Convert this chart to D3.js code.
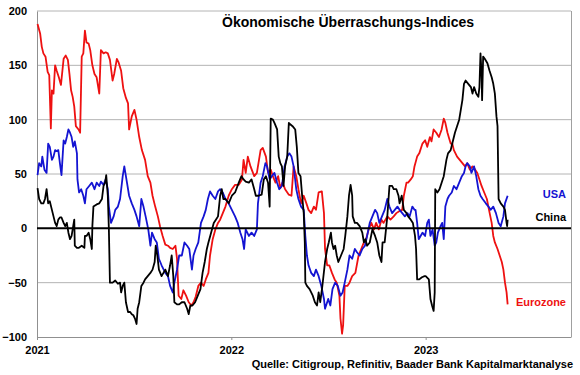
<!DOCTYPE html>
<html>
<head>
<meta charset="utf-8">
<script src="https://cdn.jsdelivr.net/npm/d3@7"></script>
<style>
  body { margin: 0; background: #fff; }
  text { font-family: "Liberation Sans", Arial, sans-serif; font-weight: bold; }
</style>
</head>
<body>
<div id="chart"></div>
<script>
// data: [days since 2021-01-01, index value]
const eurozone = [
  [1,188],[6,179],[9,167],[12,161],[16,158],[20,144],[23,141],[26,92],[28,127],[31,124],[34,150],[37,145],
  [41,139],[45,132],[50,156],[54,159],[58,155],[61,142],[64,127],[67,121],[70,112],[73,94],[78,91],[81,88],
  [84,158],[87,161],[90,182],[93,171],[97,170],[100,164],[104,150],[108,142],[112,139],[117,124],[120,164],
  [125,161],[129,162],[133,161],[137,155],[142,136],[145,142],[150,156],[153,153],[158,145],[162,129],[167,120],
  [171,115],[173,91],[178,103],[183,109],[187,100],[192,84],[197,72],[203,63],[208,48],[213,42],[217,30],
  [222,20],[227,11],[231,2],[236,-7],[241,-15],[246,-16],[250,-18],[255,-19],[260,-16],[263,-28],[266,-62],
  [271,-65],[275,-57],[280,-62],[285,-68],[290,-71],[294,-68],[298,-63],[303,-53],[308,-50],[313,-53],[317,-47],
  [322,-41],[325,-25],[330,-10],[335,-1],[340,5],[344,8],[349,14],
  [354,20],[360,30],[366,36],[372,40],[379,40],[385,45],[388,63],[392,51],[396,66],[401,57],[408,48],[413,51],
  [420,72],[424,74],[430,66],[434,51],[439,54],[443,48],[448,42],[453,48],[457,37],[461,42],[466,36],[473,31],
  [478,30],[482,57],[487,48],[491,36],[496,23],[501,30],[506,23],[510,17],[515,14],[520,20],[524,17],[529,33],
  [535,34],[539,14],[541,-19],[545,-34],[549,-34],[554,-41],[559,-47],[563,-50],[568,-62],[570,-83],[573,-97],
  [575,-89],[578,-53],[583,-53],[587,-50],[592,-44],[598,-41],[604,-25],[609,-19],[614,-13],[618,-10],[623,-1],
  [628,5],[633,-1],[637,5],[642,-1],[647,8],[651,5],[658,11],[664,8],[670,11],[675,14],[681,16],[686,17],
  [689,30],[694,42],[697,42],[702,45],[706,48],[709,57],
  [714,66],[718,69],[724,78],[729,81],[733,75],[738,84],[741,80],[745,91],[750,88],[755,84],[760,91],[764,101],
  [767,97],[771,88],[774,83],[777,78],[780,78],[783,72],[786,69],[789,66],[794,63],[799,60],[804,57],[808,60],
  [813,54],[818,57],[823,54],[827,51],[831,45],[835,39],[840,33],[845,27],[849,17],[854,5],[857,-7],[860,-13],
  [865,-19],[869,-25],[873,-31],[876,-38],[879,-50],[882,-59],[884,-70]
];

const usa = [
  [1,49],[4,60],[8,57],[10,66],[14,54],[18,51],[21,78],[24,75],[28,63],[31,66],[34,72],[37,71],[40,72],[43,60],
  [46,49],[50,81],[53,78],[56,84],[59,91],[62,88],[65,84],[68,75],[71,80],[75,69],[76,45],[79,33],[83,36],[87,30],
  [90,23],[93,36],[98,39],[103,42],[108,36],[112,42],[117,39],[120,43],[125,40],[129,45],[133,36],[135,20],[139,5],
  [144,11],[147,17],[152,20],[156,27],[161,48],[164,57],[169,42],[173,30],[178,23],[183,17],[187,11],[192,2],
  [196,27],[200,20],[204,11],[209,-1],[213,-16],[216,-4],[221,-10],[225,-13],[229,-28],[234,-34],[241,-41],
  [246,-44],[250,-53],[255,-59],[258,-50],[263,-38],[267,-25],[272,-25],[277,-13],[282,-16],[286,-19],[291,-38],
  [294,-25],[298,-19],[303,-13],[308,5],[313,11],[317,17],[321,27],[325,34],[330,30],[335,27],[340,34],[344,36],
  [349,33],
  [354,27],[360,23],[366,17],[372,11],[377,5],[382,-4],[386,-10],[389,-19],[392,-1],[398,-7],[403,-4],[408,-7],
  [413,-1],[415,23],[420,42],[424,48],[429,60],[432,57],[437,45],[441,48],[446,51],[451,42],[455,36],[460,39],
  [465,57],[470,66],[474,69],[478,66],[482,57],[487,36],[491,27],[496,20],[501,17],[504,-7],[507,-25],[510,-34],
  [515,-41],[520,-44],[524,-38],[529,-44],[534,-53],[539,-65],[541,-74],[547,-65],[551,-71],[555,-56],[560,-50],
  [565,-53],[570,-62],[574,-59],[578,-50],[583,-38],[587,-25],[592,-28],[597,-19],[601,-22],[606,-25],[611,-19],
  [616,-16],[620,-7],[625,5],[630,11],[635,17],[639,14],[643,5],[648,11],[653,17],[658,27],[662,20],[667,14],
  [672,17],[677,20],[681,17],[686,14],[691,11],[696,14],[700,11],[705,20],[709,17],
  [711,17],[714,5],[717,-10],[724,-4],[729,-7],[733,5],[736,8],[739,-7],[743,-1],[747,-16],[750,-13],[753,-4],
  [758,2],[761,5],[764,-10],[767,20],[771,27],[774,30],[779,33],[783,39],[788,36],[793,42],[798,48],[802,51],
  [805,57],[808,60],[813,57],[816,51],[821,57],[825,48],[829,36],[833,30],[837,27],[843,23],[848,20],[852,17],
  [857,20],[862,14],[867,5],[871,2],[876,11],[879,23],[884,30]
];

const china = [
  [1,37],[4,27],[8,23],[12,23],[15,27],[18,36],[21,23],[24,25],[28,17],[31,11],[34,5],[37,2],[40,8],[43,10],
  [46,10],[50,5],[53,2],[56,5],[59,-4],[62,-10],[65,-7],[68,2],[70,8],[71,-16],[75,-18],[78,-18],[84,-16],
  [89,-18],[90,-7],[93,-7],[97,-4],[100,-10],[103,-19],[104,2],[106,20],[112,22],[117,23],[122,27],[125,39],
  [128,42],[130,49],[133,30],[135,-1],[137,-50],[142,-50],[147,-48],[152,-51],[156,-50],[158,-59],[161,-53],
  [164,-50],[167,-68],[171,-77],[175,-77],[178,-79],[181,-80],[184,-83],[187,-88],[189,-74],[192,-68],[196,-53],
  [200,-50],[203,-47],[208,-44],[213,-41],[217,-38],[221,-31],[223,-16],[226,-25],[229,-38],[234,-44],[241,-38],
  [246,-44],[250,-34],[253,-25],[256,-44],[258,-68],[263,-70],[267,-70],[272,-68],[277,-68],[282,-74],[285,-79],
  [288,-71],[292,-71],[297,-68],[302,-62],[307,-56],[311,-41],[315,-31],[319,-19],[322,-13],[327,-4],[332,5],
  [336,8],[340,11],[344,30],[347,36],[350,27],
  [354,27],[360,23],[366,30],[372,33],[379,42],[384,48],[388,45],[392,43],[398,42],[403,45],[408,36],[411,30],
  [416,30],[422,31],[426,45],[430,48],[434,42],[437,20],[439,101],[443,100],[446,97],[451,91],[454,66],[457,60],
  [460,57],[463,39],[466,57],[470,66],[473,97],[475,96],[480,94],[485,91],[488,75],[491,51],[495,48],[498,30],
  [501,14],[503,-13],[504,-50],[507,-53],[512,-56],[515,-59],[518,-62],[522,-68],[526,-71],[529,-59],[532,-68],
  [536,-53],[541,-31],[545,-19],[548,-13],[552,-4],[554,-13],[557,-19],[560,-16],[563,-25],[566,-31],[571,-25],
  [576,-19],[579,-7],[583,11],[586,30],[589,40],[592,30],[593,11],[597,5],[601,5],[606,2],[611,-4],[614,-13],
  [617,-10],[620,-16],[625,-13],[630,-1],[635,-7],[639,-13],[643,-25],[647,-31],[649,-13],[653,-13],[658,11],
  [662,39],[667,39],[670,36],[675,36],[679,30],[681,23],[685,30],[689,17],[694,14],[697,11],[702,8],[706,5],
  [710,-7],[712,-19],[714,-47],[718,-47],[723,-45],[728,-44],
  [730,-44],[736,-47],[738,-59],[739,-65],[742,-71],[745,-76],[747,-59],[748,36],[752,33],[756,36],[760,42],
  [764,48],[769,63],[772,69],[777,72],[780,78],[785,88],[789,94],[793,100],[796,109],[799,118],[802,133],
  [805,136],[810,133],[815,130],[818,124],[821,130],[825,124],[829,121],[831,130],[833,161],[835,142],[836,118],
  [838,158],[841,156],[846,152],[850,145],[854,139],[857,133],[860,124],[863,103],[865,94],[867,27],[871,23],
  [876,20],[879,17],[882,5],[883,2],[884,8]
];

const seriesNames = ['Eurozone', 'USA', 'China'];
const yTicks = [-100, -50, 0, 50, 100, 150, 200];
const yearTicks = ['2021-01-01', '2022-01-01', '2023-01-01'];
const startDate = new Date(2021, 0, 1);
const endDate = new Date(2023, 9, 1);

const outerW = 580,
    outerH = 375,
    margin = { left: 37, right: 9, top: 11, bottom: 38 },
    w = outerW - margin.left - margin.right,
    h = outerH - margin.top - margin.bottom;

const colors = { Eurozone: '#ee1111', USA: '#1414d2', China: '#000000' };

const svg = d3.select('#chart').append('svg')
    .attr('width', outerW)
    .attr('height', outerH);

const g = svg.append('g')
    .attr('transform', 'translate(' + margin.left + ',' + margin.top + ')');

const x = d3.scaleTime().domain([startDate, endDate]).range([0, w]);
const y = d3.scaleLinear().domain([-100, 200]).range([h, 0]);

const toDate = d => d3.timeDay.offset(startDate, d[0]);

// gridlines
g.append('g')
    .selectAll('line')
    .data(yTicks.filter(v => v !== 0 && v !== -100))
    .enter().append('line')
    .attr('x1', 0).attr('x2', w)
    .attr('y1', d => y(d)).attr('y2', d => y(d))
    .attr('stroke', '#b4b4b4')
    .attr('stroke-width', 1);

// right border
g.append('line')
    .attr('x1', w + 0.5).attr('x2', w + 0.5)
    .attr('y1', 0).attr('y2', h)
    .attr('stroke', '#a0a0a0');

// y axis
const yAxis = g.append('g')
    .call(d3.axisLeft(y).tickValues(yTicks).tickSize(0).tickPadding(10));
yAxis.select('.domain').attr('stroke', '#909090');
yAxis.selectAll('text')
    .style('font-size', '11px')
    .attr('fill', '#000');

// x axis
const xAxis = g.append('g')
    .attr('transform', 'translate(0,' + h + ')')
    .call(d3.axisBottom(x)
        .tickValues(yearTicks.map(s => new Date(s + 'T00:00:00')))
        .tickFormat(d3.timeFormat('%Y'))
        .tickSize(3)
        .tickSizeOuter(0)
        .tickPadding(6));
xAxis.select('.domain').attr('stroke', '#909090');
xAxis.selectAll('line').attr('stroke', '#909090');
xAxis.selectAll('text')
    .style('font-size', '11px')
    .attr('fill', '#000');

// lines
const line = d3.line()
    .x(d => x(toDate(d)))
    .y(d => y(d[1]));

const seriesData = { Eurozone: eurozone, USA: usa, China: china };

g.selectAll('.series')
    .data(seriesNames)
    .enter().append('path')
    .attr('class', 'series')
    .attr('d', n => line(seriesData[n]))
    .attr('fill', 'none')
    .attr('stroke', n => colors[n])
    .attr('stroke-width', 1.8)
    .attr('stroke-linejoin', 'round');

// zero line
g.append('line')
    .attr('x1', 0).attr('x2', w)
    .attr('y1', y(0)).attr('y2', y(0))
    .attr('stroke', '#000')
    .attr('stroke-width', 2);

// series labels
const labelY = { USA: 31, China: 10, Eurozone: -68 };
g.selectAll('.lbl')
    .data(seriesNames)
    .enter().append('text')
    .attr('class', 'lbl')
    .attr('x', w - 5)
    .attr('y', n => y(labelY[n]))
    .attr('dy', '0.35em')
    .attr('text-anchor', 'end')
    .style('font-size', '11px')
    .attr('fill', n => colors[n])
    .text(n => n);

// title
svg.append('text')
    .attr('x', 222)
    .attr('y', 27)
    .style('font-size', '14px')
    .text('Ökonomische Überraschungs-Indices');

// source
svg.append('text')
    .attr('x', 573)
    .attr('y', 368)
    .attr('text-anchor', 'end')
    .style('font-size', '11px')
    .text('Quelle: Citigroup, Refinitiv, Baader Bank Kapitalmarktanalyse');
</script>
</body>
</html>
